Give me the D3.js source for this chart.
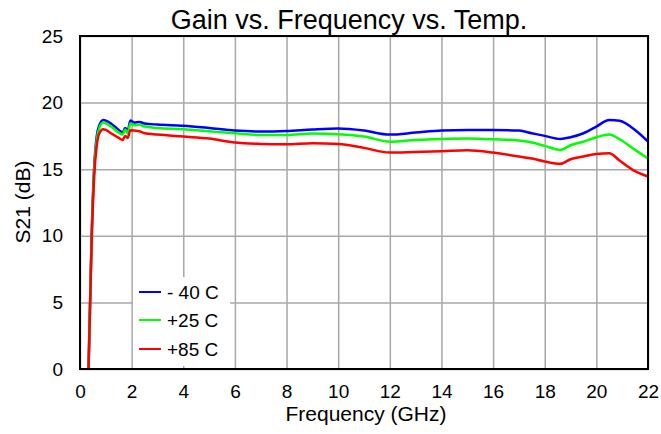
<!DOCTYPE html>
<html>
<head>
<meta charset="utf-8">
<script src="https://cdn.jsdelivr.net/npm/d3@7"></script>
<style>
  html, body { margin: 0; padding: 0; background: #fff; }
  svg { display: block; font-family: Arial, "Liberation Sans", sans-serif; }
</style>
</head>
<body>
<svg id="chart" width="661" height="434"></svg>
<script>
const freq = [0.33, 0.45, 0.55, 0.65, 0.75, 0.9, 1.0, 1.2, 1.5, 1.65, 1.75, 1.85, 1.95, 2.1, 2.3, 2.5, 3, 4, 5, 6, 7, 8, 9, 10, 11, 12, 13, 14, 15, 16, 17, 17.5, 18, 18.6, 19, 19.5, 20, 20.5, 20.9, 21.5, 22];
const gainM40 = [0, 10, 15.2, 17.5, 18.3, 18.7, 18.65, 18.43, 17.95, 17.75, 18.1, 17.9, 18.65, 18.5, 18.55, 18.43, 18.35, 18.27, 18.1, 17.9, 17.83, 17.87, 17.98, 18.05, 17.9, 17.6, 17.75, 17.9, 17.95, 17.95, 17.9, 17.7, 17.5, 17.27, 17.4, 17.7, 18.2, 18.7, 18.63, 17.94, 17.07];
const gainP25 = [0, 9.8, 15, 17.2, 18.1, 18.5, 18.45, 18.2, 17.75, 17.6, 17.98, 17.7, 18.43, 18.3, 18.35, 18.2, 18.1, 18.0, 17.85, 17.7, 17.57, 17.57, 17.68, 17.62, 17.45, 17.07, 17.2, 17.27, 17.3, 17.25, 17.15, 17.0, 16.75, 16.45, 16.8, 17.07, 17.4, 17.6, 17.25, 16.45, 15.8];
const gainP85 = [0, 9.5, 14.5, 16.8, 17.7, 18.0, 17.95, 17.7, 17.35, 17.2, 17.5, 17.35, 17.93, 17.9, 17.85, 17.7, 17.6, 17.45, 17.3, 17.0, 16.9, 16.87, 16.95, 16.9, 16.6, 16.25, 16.3, 16.35, 16.42, 16.25, 15.95, 15.8, 15.58, 15.4, 15.75, 15.95, 16.15, 16.2, 15.65, 14.85, 14.45];
const seriesNames = ["- 40 C", "+25 C", "+85 C"];
const seriesColors = ["#0000ff", "#00ff00", "#ff0000"];
const xTicks = [0, 2, 4, 6, 8, 10, 12, 14, 16, 18, 20, 22];
const yTicks = [0, 5, 10, 15, 20, 25];
const titleText = "Gain vs. Frequency vs. Temp.";
const xLabel = "Frequency (GHz)";
const yLabel = "S21 (dB)";

const svg = d3.select("#chart");
const W = 661, H = 434;
const m = {left: 80, right: 13, top: 36, bottom: 65};
const iw = W - m.left - m.right, ih = H - m.top - m.bottom;
const x = d3.scaleLinear().domain([0, 22]).range([m.left, m.left + iw]);
const y = d3.scaleLinear().domain([0, 25]).range([m.top + ih, m.top]);
const FONT = "Arial, 'Liberation Sans', sans-serif";

// grid
const gx = svg.append("g").attr("transform", `translate(0,${m.top + ih})`)
  .call(d3.axisBottom(x).tickValues(xTicks).tickSize(-ih).tickFormat(""));
gx.select(".domain").remove();
gx.selectAll("line").attr("stroke", "#a8a8a8").attr("stroke-width", 1.5);
const gy = svg.append("g").attr("transform", `translate(${m.left},0)`)
  .call(d3.axisLeft(y).tickValues(yTicks).tickSize(-iw).tickFormat(""));
gy.select(".domain").remove();
gy.selectAll("line").attr("stroke", "#a8a8a8").attr("stroke-width", 1.5);

// tick labels
const xa = svg.append("g").attr("transform", `translate(0,${m.top + ih})`)
  .call(d3.axisBottom(x).tickValues(xTicks).tickSize(0).tickPadding(16).tickFormat(d3.format("d")));
xa.select(".domain").remove();
xa.selectAll("text").attr("font-size", 19).attr("fill", "#000").attr("font-family", FONT);
const ya = svg.append("g").attr("transform", `translate(${m.left},0)`)
  .call(d3.axisLeft(y).tickValues(yTicks).tickSize(0).tickPadding(17).tickFormat(d3.format("d")));
ya.select(".domain").remove();
ya.selectAll("text").attr("font-size", 19).attr("fill", "#000").attr("font-family", FONT);

// legend background
svg.append("rect").attr("x", 133).attr("y", 277).attr("width", 97).attr("height", 89).attr("fill", "#fff");

// lines
const allSeries = [gainM40, gainP25, gainP85];
const line = d3.line().x((d, i) => x(freq[i])).y(d => y(d)).curve(d3.curveMonotoneX);
allSeries.forEach((s, k) => {
  svg.append("path").datum(s).attr("d", line).attr("fill", "none")
    .attr("stroke", seriesColors[k]).attr("stroke-width", 2.5).attr("stroke-linejoin", "round");
});

// frame
svg.append("rect").attr("x", m.left).attr("y", m.top).attr("width", iw).attr("height", ih)
  .attr("fill", "none").attr("stroke", "#000").attr("stroke-width", 2);

// legend
const legY = [292, 320, 349];
seriesNames.forEach((n, k) => {
  svg.append("line").attr("x1", 139).attr("x2", 161).attr("y1", legY[k]).attr("y2", legY[k])
    .attr("stroke", seriesColors[k]).attr("stroke-width", 2);
  svg.append("text").attr("x", 167).attr("y", legY[k] + 7).attr("font-size", 19).text(n);
});

// titles
svg.append("text").attr("x", 349).attr("y", 29).attr("text-anchor", "middle").attr("font-size", 27).text(titleText);
svg.append("text").attr("x", 366).attr("y", 421).attr("text-anchor", "middle").attr("font-size", 21).text(xLabel);
svg.append("text").attr("transform", "translate(30,202) rotate(-90)").attr("text-anchor", "middle").attr("font-size", 21).text(yLabel);
</script>
</body>
</html>
